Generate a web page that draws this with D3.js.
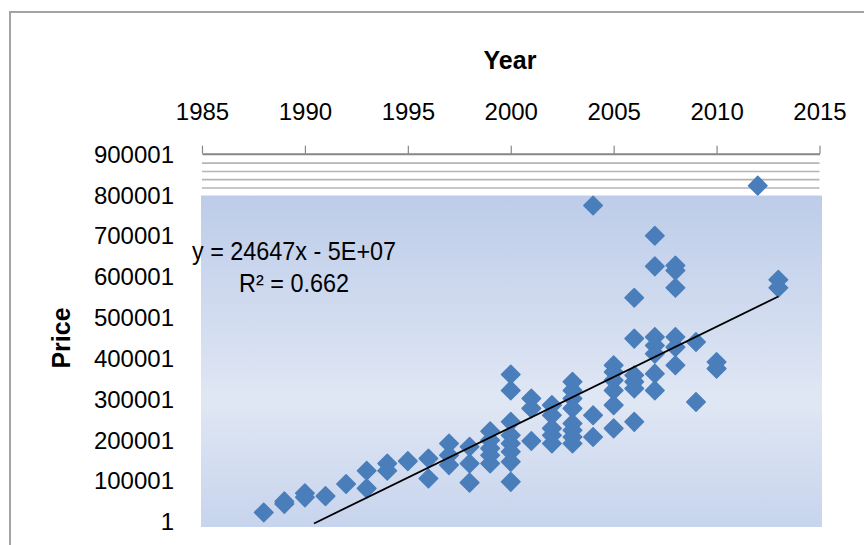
<!DOCTYPE html>
<html lang="en">
<head>
<meta charset="utf-8">
<title>Price by Year</title>
<script src="https://d3js.org/d3.v7.min.js"></script>
<style>
    html, body {
        margin: 0;
        padding: 0;
        background: #fff;
    }
    svg {
        display: block;
        font-family: "Liberation Sans", Arial, sans-serif;
    }
    .tick text {
        font-size: 24px;
        fill: #000;
    }
    .axis-title {
        font-size: 25px;
        font-weight: bold;
    }
    .trend-label {
        font-size: 26px;
    }
</style>
</head>
<body>
<svg id="chart"></svg>
<script>
// data
const years = [
    1988,
    1989, 1989,
    1990, 1990,
    1991,
    1992,
    1993, 1993,
    1994, 1994,
    1995,
    1996, 1996,
    1997, 1997, 1997,
    1998, 1998, 1998,
    1999, 1999, 1999, 1999, 1999,
    2000, 2000, 2000, 2000, 2000, 2000, 2000, 2000,
    2001, 2001, 2001,
    2002, 2002, 2002, 2002, 2002,
    2003, 2003, 2003, 2003, 2003, 2003, 2003, 2003,
    2004, 2004, 2004,
    2005, 2005, 2005, 2005, 2005, 2005,
    2006, 2006, 2006, 2006, 2006, 2006,
    2007, 2007, 2007, 2007, 2007, 2007, 2007,
    2008, 2008, 2008, 2008, 2008, 2008,
    2009, 2009,
    2010, 2010,
    2012,
    2013, 2013
];
const prices = [
    21000,
    42000, 48000,
    68000, 58000,
    61000,
    90500,
    123000, 80000,
    141000, 123000,
    146700,
    153000, 104000,
    190000, 161000, 137000,
    182000, 141000, 94000,
    220000, 198000, 178000, 161000, 141000,
    359000, 320000, 243000, 210000, 190000, 169500, 145000, 96000,
    300000, 276000, 196000,
    284000, 259000, 227000, 210000, 190000,
    341000, 320000, 300000, 276000, 239000, 222500, 206000, 190000,
    773000, 259000, 206000,
    381500, 365000, 345000, 320000, 284000, 227000,
    547000, 447000, 357000, 341000, 324500, 243000,
    699000, 624000, 451000, 430000, 410000, 361000, 320000,
    626000, 614000, 571500, 451000, 426000, 381500,
    438500, 291700,
    389600, 373400,
    821700,
    591000, 571500
];

const xTicks = [1985, 1990, 1995, 2000, 2005, 2010, 2015];
const yTicks = [1, 100001, 200001, 300001, 400001, 500001, 600001, 700001, 800001, 900001];

// linear trendline as printed on the chart
const trendSlope = 24647;
const trendIntercept = -49064400;
const trendFloor = -6000;
const trendEnd = 2013;
const trendLines = ["y = 24647x - 5E+07", "R\u00b2 = 0.662"];

// the striped band above the shaded plot area
const bandLines = [877000, 856500, 836500, 816000];

const width = 864;
const height = 545;

const svg = d3.select("#chart")
    .attr("width", width)
    .attr("height", height);

const x = d3.scaleLinear()
    .domain([1985, 2015])
    .range([202, 819.5]);

const y = d3.scaleLinear()
    .domain([1, 900001])
    .range([521, 153.7]);

// plot area gradient
const grad = svg.append("defs").append("linearGradient")
    .attr("id", "plotFill")
    .attr("x1", 0).attr("y1", 0)
    .attr("x2", 0).attr("y2", 1);
grad.append("stop").attr("offset", "0%").attr("stop-color", "#bdcce9");
grad.append("stop").attr("offset", "62%").attr("stop-color", "#e0e7f4");
grad.append("stop").attr("offset", "100%").attr("stop-color", "#c7d4ed");

// outer frame
svg.append("path")
    .attr("d", `M10,${height} L10,12 L${width},12`)
    .attr("fill", "none")
    .attr("stroke", "#a3a3a3")
    .attr("stroke-width", 2);

svg.append("rect")
    .attr("x", x(1985) - 1)
    .attr("y", y(800001) + 1)
    .attr("width", x(2015) - x(1985) + 3.5)
    .attr("height", y(1) + 6 - y(800001) - 1)
    .attr("fill", "url(#plotFill)");

svg.append("g")
    .selectAll("line")
    .data(bandLines)
    .join("line")
    .attr("x1", x(1985))
    .attr("x2", x(2015))
    .attr("y1", d => y(d))
    .attr("y2", d => y(d))
    .attr("stroke", "#b5b5b5")
    .attr("stroke-width", 1.6);

// axes
const xAxis = svg.append("g")
    .attr("transform", `translate(0, ${y(900001)})`)
    .call(d3.axisTop(x).tickValues(xTicks).tickFormat(d3.format("d"))
        .tickSize(8).tickSizeOuter(0).tickPadding(26));
xAxis.select(".domain").attr("stroke", "#868686").attr("stroke-width", 2);
xAxis.selectAll(".tick line").attr("stroke", "#868686").attr("stroke-width", 1.2);

const yAxis = svg.append("g")
    .attr("transform", `translate(${x(1985) - 1}, 0)`)
    .call(d3.axisLeft(y).tickValues(yTicks).tickFormat(d3.format("d"))
        .tickSize(0).tickPadding(27));
yAxis.select(".domain").remove();
yAxis.selectAll(".tick text").attr("dy", "0.36em");

svg.append("text")
    .attr("class", "axis-title")
    .attr("x", 510)
    .attr("y", 69)
    .attr("text-anchor", "middle")
    .text("Year");

svg.append("text")
    .attr("class", "axis-title")
    .attr("transform", "translate(70, 338) rotate(-90)")
    .attr("text-anchor", "middle")
    .text("Price");

// points
const pts = years.map((yr, i) => ({ year: yr, price: prices[i] }));
const diamond = d3.symbol().type(d3.symbolSquare).size(172);

svg.append("g")
    .selectAll("path")
    .data(pts)
    .join("path")
    .attr("d", diamond)
    .attr("transform", d => `translate(${x(d.year)}, ${y(d.price)}) rotate(45)`)
    .attr("fill", "#4a7ebb")
    .attr("stroke", "#4a7ebb")
    .attr("stroke-width", 1.5)
    .attr("stroke-linejoin", "round");

// trendline
const trendStart = (trendFloor - trendIntercept) / trendSlope;
const fit = t => trendSlope * t + trendIntercept;
svg.append("line")
    .attr("x1", x(trendStart))
    .attr("y1", y(fit(trendStart)))
    .attr("x2", x(trendEnd))
    .attr("y2", y(fit(trendEnd)))
    .attr("stroke", "#000")
    .attr("stroke-width", 1.8);

// equation label, a little condensed like the original
svg.append("g")
    .selectAll("text")
    .data(trendLines)
    .join("text")
    .attr("class", "trend-label")
    .attr("transform", (d, i) => `translate(294, ${260 + i * 32}) scale(0.9, 1)`)
    .attr("text-anchor", "middle")
    .text(d => d);
</script>
</body>
</html>
